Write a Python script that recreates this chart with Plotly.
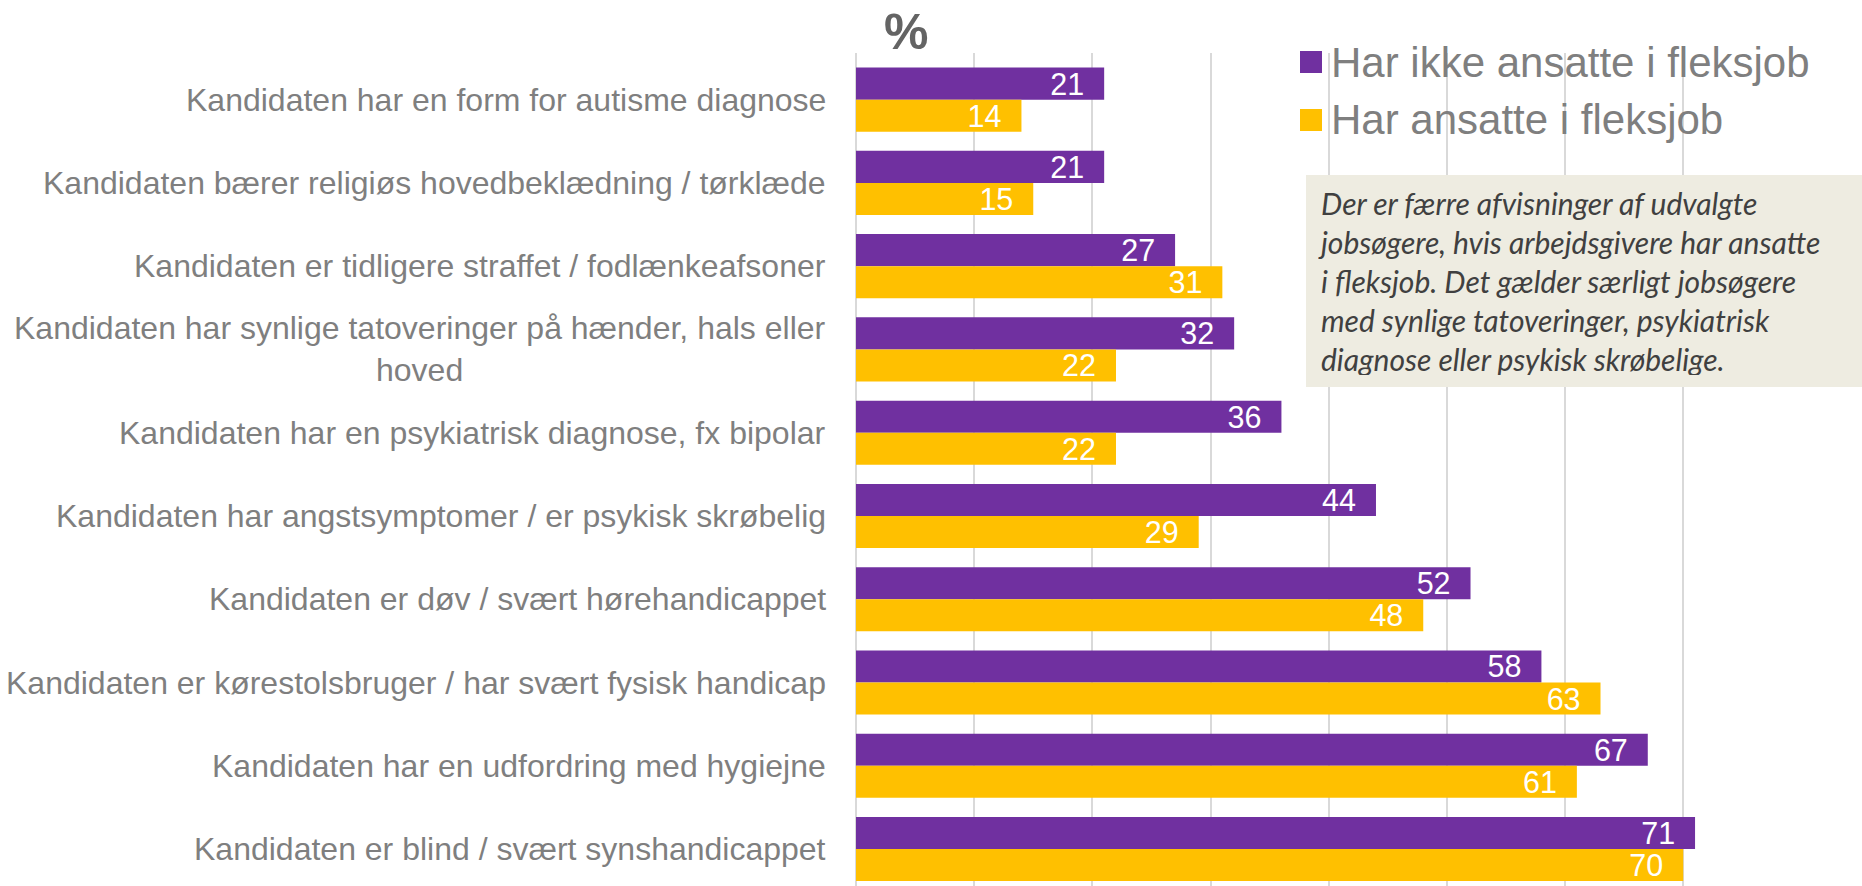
import plotly.graph_objects as go

categories = [
    "Kandidaten har en form for autisme diagnose",
    "Kandidaten bærer religiøs hovedbeklædning / tørklæde",
    "Kandidaten er tidligere straffet / fodlænkeafsoner",
    "Kandidaten har synlige tatoveringer på hænder, hals eller<br>hoved",
    "Kandidaten har en psykiatrisk diagnose, fx bipolar",
    "Kandidaten har angstsymptomer / er psykisk skrøbelig",
    "Kandidaten er døv / svært hørehandicappet",
    "Kandidaten er kørestolsbruger / har svært fysisk handicap",
    "Kandidaten har en udfordring med hygiejne",
    "Kandidaten er blind / svært synshandicappet",
]
har_ikke = [21, 21, 27, 32, 36, 44, 52, 58, 67, 71]
har = [14, 15, 31, 22, 22, 29, 48, 63, 61, 70]
series_names = ["Har ikke ansatte i fleksjob", "Har ansatte i fleksjob"]
note_text = ("Der er færre afvisninger af udvalgte<br>"
             "jobsøgere, hvis arbejdsgivere har ansatte<br>"
             "i fleksjob. Det gælder særligt jobsøgere<br>"
             "med synlige tatoveringer, psykiatrisk<br>"
             "diagnose eller psykisk skrøbelige.")

PURPLE = "#7030A0"
YELLOW = "#FFC000"
GRAY = "#7F7F7F"
FONT = "Arial, Liberation Sans, sans-serif"
colors = [PURPLE, YELLOW]

fig = go.Figure()
for name, vals, col in zip(series_names, [har_ikke, har], colors):
    fig.add_trace(go.Bar(
        y=categories, x=vals, name=name, orientation="h",
        marker=dict(color=col, line=dict(width=0)),
        text=vals, texttemplate="%{x}\u00a0\u00a0",
        textposition="inside", insidetextanchor="end",
        constraintext="none",
        textfont=dict(color="white", size=30.5, family=FONT),
        hoverinfo="x+y", showlegend=False,
    ))

W, H = 1862, 886
left, right, top, bottom = 856, 1802, 53, 886
pw, ph = right - left, bottom - top

def px_x(x):
    return (x - left) / pw

def px_y(y):
    return 1 - (y - top) / ph

fig.update_layout(
    width=W, height=H,
    barmode="group", bargap=0.23, bargroupgap=0,
    plot_bgcolor="white", paper_bgcolor="white",
    margin=dict(l=left, r=W - right, t=top, b=H - bottom, pad=0, autoexpand=False),
    font=dict(family=FONT, color=GRAY),
    showlegend=False,
    xaxis=dict(
        range=[0, 80.05], dtick=10, tick0=0,
        showgrid=True, gridcolor="#D9D9D9", gridwidth=1.5,
        zeroline=True, zerolinecolor="#D9D9D9", zerolinewidth=1.5,
        showticklabels=False, showline=False, fixedrange=True,
    ),
    yaxis=dict(
        type="category", categoryorder="array", categoryarray=categories,
        range=[9.444, -0.56],
        showticklabels=False, showgrid=False, zeroline=False, showline=False,
    ),
)

# category labels (right aligned, multi-line centred like the original)
for c in categories:
    fig.add_annotation(
        xref="paper", yref="y", x=0, y=c, xanchor="right", yanchor="middle",
        xshift=-28, text=c, showarrow=False, align="center",
        font=dict(size=32, color=GRAY, family=FONT),
    )

# % title
fig.add_annotation(
    xref="paper", yref="paper", x=px_x(906), y=px_y(32),
    xanchor="center", yanchor="middle", text="<b>%</b>", showarrow=False,
    font=dict(size=50, color="#646464", family=FONT),
)

# legend (colour squares + series names)
for i, (name, col) in enumerate(zip(series_names, colors)):
    cy = 62 + 58 * i
    fig.add_shape(
        type="rect", xref="paper", yref="paper",
        x0=px_x(1300), x1=px_x(1322), y0=px_y(cy - 11), y1=px_y(cy + 11),
        fillcolor=col, line=dict(width=0), layer="above",
    )
    fig.add_annotation(
        xref="paper", yref="paper", x=px_x(1329), y=px_y(cy),
        xanchor="left", yanchor="middle", text=name, showarrow=False,
        font=dict(size=42, color=GRAY, family=FONT),
    )

# note box
fig.add_annotation(
    xref="paper", yref="paper",
    x=px_x(1306), y=px_y(175),
    xanchor="left", yanchor="top",
    text="<i>" + note_text + "</i>", showarrow=False, align="left", valign="middle",
    width=532, height=188, borderpad=12, bgcolor="#EEECE1", borderwidth=0,
    font=dict(size=30, color="#404040", family="Lato, Open Sans, sans-serif"),
)

fig.write_html(
    "out.html",
    config={"displayModeBar": False},
    post_script="document.body.style.margin='0';document.body.style.overflow='hidden';",
)
